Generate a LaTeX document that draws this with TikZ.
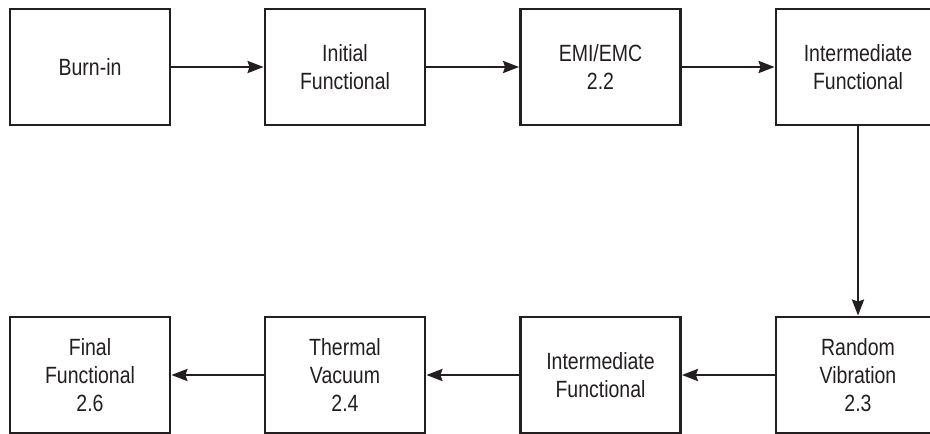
\documentclass[tikz,border=0pt]{standalone}
\usepackage{fontspec}
\setmainfont[FakeStretch=0.83]{Liberation Sans}
\usetikzlibrary{arrows.meta}
\definecolor{ink}{HTML}{231F20}
\begin{document}
\begin{tikzpicture}[x=1pt,y=-1pt,
  stage/.style={draw=ink, line width=2.8pt, minimum width=160pt, minimum height=116pt,
    inner sep=0pt, align=center, text=ink, font=\fontsize{23.5}{28}\selectfont},
  wide/.style={minimum width=164pt},
  flow/.style={draw=ink, line width=2.6pt, -{Stealth[length=16pt,width=12pt,inset=2pt]}}]
  \useasboundingbox (0,0) rectangle (930,434);
  \clip (0,0) rectangle (930,434);
  % upper row, left to right
  \node[stage] (burn) at (90,67) {Burn-in};
  \node[stage] (init) at (345,67) {Initial\\Functional};
  \node[stage] (emi) at (600.5,67) {EMI/EMC\\2.2};
  \node[stage,wide] (mid1) at (858,67) {Intermediate\\Functional};
  % lower row, right to left
  \node[stage,wide] (rand) at (858,375) {Random\\Vibration\\2.3};
  \node[stage] (mid2) at (600.5,375) {Intermediate\\Functional};
  \node[stage] (therm) at (345,375) {Thermal\\Vacuum\\2.4};
  \node[stage] (final) at (90,375) {Final\\Functional\\2.6};
  % connectors
  \draw[flow] (burn) -- (init);
  \draw[flow] (init) -- (emi);
  \draw[flow] (emi) -- (mid1);
  \draw[flow] (mid1) -- (rand);
  \draw[flow] (rand) -- (mid2);
  \draw[flow] (mid2) -- (therm);
  \draw[flow] (therm) -- (final);
\end{tikzpicture}
\end{document}
